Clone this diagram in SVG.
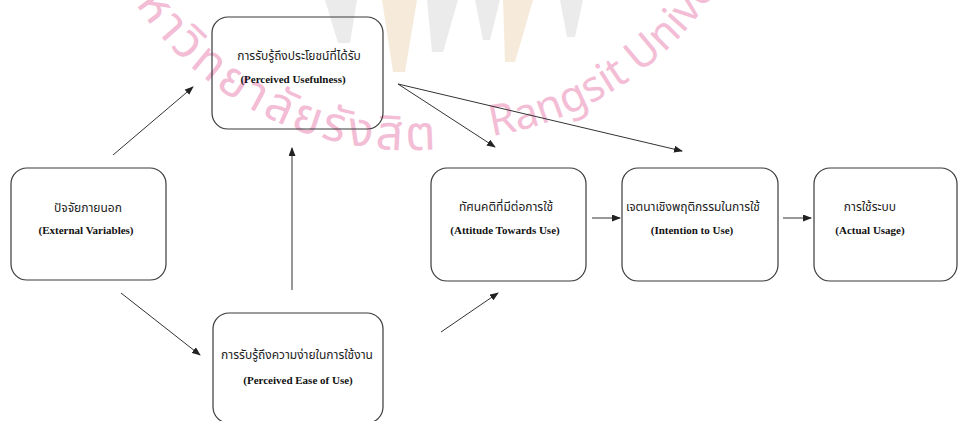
<svg xmlns="http://www.w3.org/2000/svg" width="958" height="421" viewBox="0 0 958 421">
  <style>
    .box { fill: none; stroke: #3a3a3a; stroke-width: 1.2; }
    .th { font-family: "Noto Sans Thai", "Noto Serif Thai", "Loma", "Garuda", "Noto Sans", "DejaVu Sans", sans-serif; font-size: 12px; fill: #222; text-anchor: middle; }
    .en { font-family: "Liberation Serif", "Times New Roman", serif; font-weight: bold; font-size: 11px; fill: #111; text-anchor: middle; }
    .conn { stroke: #333; stroke-width: 1; fill: none; marker-end: url(#arr); }
    .wmth { font-family: "Noto Sans Thai", "Noto Sans", "DejaVu Sans", sans-serif; font-size: 48px; letter-spacing: 3.5px; fill: #f3bdd6; }
    .wmen { font-family: "Noto Sans", "DejaVu Sans", sans-serif; font-size: 43px; fill: #f3bdd6; }
    .rayg { fill: #ebebeb; }
    .rayt { fill: #f6eadb; }
  </style>
  <defs>
    <marker id="arr" markerWidth="9" markerHeight="7" refX="8" refY="3.5" orient="auto" markerUnits="userSpaceOnUse">
      <path d="M0,0 L9,3.5 L0,7 z" fill="#222"/>
    </marker>
    <path id="wmArcTh" d="M 91.2 -94.6 A 330 330 0 0 0 728.8 -94.6"/>
    <path id="wmArcEn" d="M 121.2 -104.6 A 330 330 0 0 0 758.8 -104.6"/>
  </defs>
  <rect width="958" height="421" fill="#ffffff"/>

  <g id="watermark">
    <polygon class="rayg" points="325,0 357,0 350,43 338,43"/>
    <polygon class="rayt" points="382,0 417,0 405,72 393,72"/>
    <polygon class="rayg" points="427,0 458,0 443,52 432,52"/>
    <polygon class="rayg" points="475,0 500,0 490,40 483,40"/>
    <polygon class="rayt" points="503,0 533,0 515,62 505,62"/>
    <polygon class="rayg" points="560,0 583,0 575,37 567,37"/>
    <text class="wmth"><textPath href="#wmArcTh" startOffset="462" text-anchor="end">มหาวิทยาลัยรังสิต</textPath></text>
    <text class="wmen"><textPath href="#wmArcEn" startOffset="484">Rangsit University</textPath></text>
  </g>

  <g id="connectors">
    <line class="conn" x1="113" y1="155" x2="193" y2="87"/>
    <line class="conn" x1="121" y1="293" x2="200" y2="355"/>
    <line class="conn" x1="292" y1="290" x2="292" y2="148"/>
    <line class="conn" x1="441" y1="332" x2="498" y2="293"/>
    <line class="conn" x1="398" y1="84" x2="495" y2="147"/>
    <line class="conn" x1="398" y1="84" x2="682" y2="151"/>
    <line class="conn" x1="592" y1="218" x2="620" y2="218"/>
    <line class="conn" x1="783" y1="218" x2="811" y2="218"/>
  </g>

  <g id="perceived-usefulness">
    <rect class="box" x="212" y="17" width="171" height="112" rx="16"/>
    <text class="th" x="299" y="60">การรับรู้ถึงประโยชน์ที่ได้รับ</text>
    <text class="en" x="293" y="83">(Perceived  Usefulness)</text>
  </g>

  <g id="external-variables">
    <rect class="box" x="11" y="168" width="155" height="112" rx="16"/>
    <text class="th" x="88" y="212">ปัจจัยภายนอก</text>
    <text class="en" x="86" y="234">(External Variables)</text>
  </g>

  <g id="perceived-ease-of-use">
    <rect class="box" x="213" y="313" width="170" height="110" rx="16"/>
    <text class="th" x="297" y="359">การรับรู้ถึงความง่ายในการใช้งาน</text>
    <text class="en" x="298" y="384">(Perceived  Ease of Use)</text>
  </g>

  <g id="attitude">
    <rect class="box" x="431" y="168" width="155" height="113" rx="16"/>
    <text class="th" x="506" y="211">ทัศนคติที่มีต่อการใช้</text>
    <text class="en" x="505" y="234">(Attitude Towards  Use)</text>
  </g>

  <g id="intention">
    <rect class="box" x="622" y="168" width="156" height="113" rx="16"/>
    <text class="th" x="693" y="211">เจตนาเชิงพฤติกรรมในการใช้</text>
    <text class="en" x="692" y="234">(Intention to Use)</text>
  </g>

  <g id="actual-usage">
    <rect class="box" x="814" y="168" width="143" height="113" rx="16"/>
    <text class="th" x="870" y="211">การใช้ระบบ</text>
    <text class="en" x="870" y="234">(Actual Usage)</text>
  </g>
</svg>
